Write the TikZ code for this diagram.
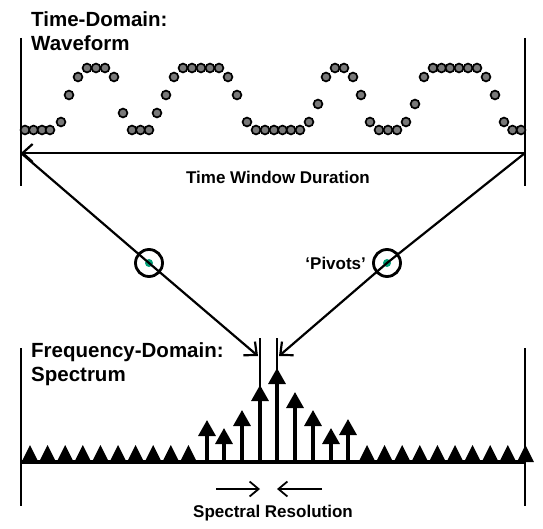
\documentclass[tikz,border=0pt]{standalone}
\usepackage{fontspec}
\setmainfont{Liberation Sans}
\usetikzlibrary{arrows.meta}
\usetikzlibrary{positioning}

\definecolor{pivotgreen}{RGB}{0,160,120}

\begin{document}
\begin{tikzpicture}[x=1pt, y=-1pt,
    heading/.style = {anchor=base west, inner sep=0,
      font=\fontsize{20.5}{24}\selectfont\bfseries},
    caption/.style = {inner sep=0, font=\fontsize{17}{20}\selectfont\bfseries},
    sample/.style = {circle, draw, line width=1.7pt, fill=gray!95!black,
      inner sep=0, minimum size=8.8pt},
    pivot/.style = {circle, draw, line width=2.8pt, minimum size=27pt, inner sep=0},
    frame/.style = {line width=2.4pt},
    barb/.style = {line width=2.2pt, -{Straight Barb[length=10pt,width=18pt]}},
    thinbarb/.style = {line width=1.8pt, -{Straight Barb[length=9pt,width=15pt]}},
    spike/.style = {line width=3.2pt, -{Triangle[length=16pt,width=17pt]}}]

  \useasboundingbox (0,0) rectangle (543,529);

  % time domain
  \node[heading] (tdHead) at (31,27) {Time-Domain:};
  \node[heading] (tdSub) at (31,51) {Waveform};
  \draw[frame] (21,38) -- (21,186);
  \draw[frame] (525,38) -- (525,186);
  \foreach \x/\y [count=\i] in {25/130, 33.5/130, 42/130, 50/130, 61/122, 69/95,
      78/77, 87/68, 96/68, 105/68, 114/77, 123/113, 132/130, 140.5/130, 149/130,
      157/113, 166/95, 174/77, 183/68, 192/68, 201/68, 210/68, 219/68, 228/77,
      237/95, 247/122, 256/130, 265/130, 274/130, 282.5/130, 291/130, 300/130,
      309/122, 318/104, 326/77, 335/68, 344/68, 353/77, 361/95, 370/122,
      379/130, 388/130, 397/130, 406/122, 415/104, 424/77, 433/68, 441.5/68,
      450/68, 459/68, 468/68, 477/68, 486/77, 495/95, 504/122, 512.5/130, 521/130}
    \node[sample] (s\i) at (\x,\y) {};

  \coordinate (winL) at (21,153);
  \coordinate (winR) at (525,153);
  \draw[barb, {Straight Barb[length=10pt,width=18pt]}-] (winL) -- (winR);
  \node[caption] (winText) at (278,177) {Time Window Duration};

  % pivots
  \node[pivot] (pivL) at (149,263) {};
  \node[pivot] (pivR) at (387,263) {};
  \fill[pivotgreen] (pivL.center) circle (4pt);
  \fill[pivotgreen] (pivR.center) circle (4pt);
  \node[caption, left=6pt of pivR] (pivText) {`Pivots'};

  \coordinate (tipL) at (258,356);
  \coordinate (tipR) at (279,356);
  \draw[barb] (winL) -- (pivL.center) -- (tipL);
  \draw[barb] (winR) -- (pivR.center) -- (tipR);

  % frequency domain
  \node[heading] (fdHead) at (31,357) {Frequency-Domain:};
  \node[heading] (fdSub) at (31,381) {Spectrum};
  \draw[frame] (21,348) -- (21,506);
  \draw[frame] (525,348) -- (525,506);
  \draw[line width=1.4pt] (260,462) -- (260,338);
  \draw[line width=1.4pt] (277,462) -- (277,338);

  \foreach \k [evaluate=\k as \xa using 30+17.6*\k,
               evaluate=\k as \xb using 367+17.6*\k] in {0,...,9} {
    \fill (\xa-8.5,462) -- (\xa+8.5,462) -- (\xa,445) -- cycle;
    \fill (\xb-8.5,462) -- (\xb+8.5,462) -- (\xb,445) -- cycle;
  }
  \foreach \x/\h in {207/420, 224/428, 242/410, 260/385, 277/368,
      295/392, 313/410, 331/428, 348/419}
    \draw[spike] (\x,462) -- (\x,\h);
  \draw[line width=4pt] (21,462) -- (525,462);

  \coordinate (resL) at (216,489);
  \coordinate (resR) at (322,489);
  \draw[thinbarb] (resL) -- (260,489);
  \draw[thinbarb] (resR) -- (277,489);
  \node[caption] (resText) at (273,513) {Spectral Resolution};
\end{tikzpicture}
\end{document}
